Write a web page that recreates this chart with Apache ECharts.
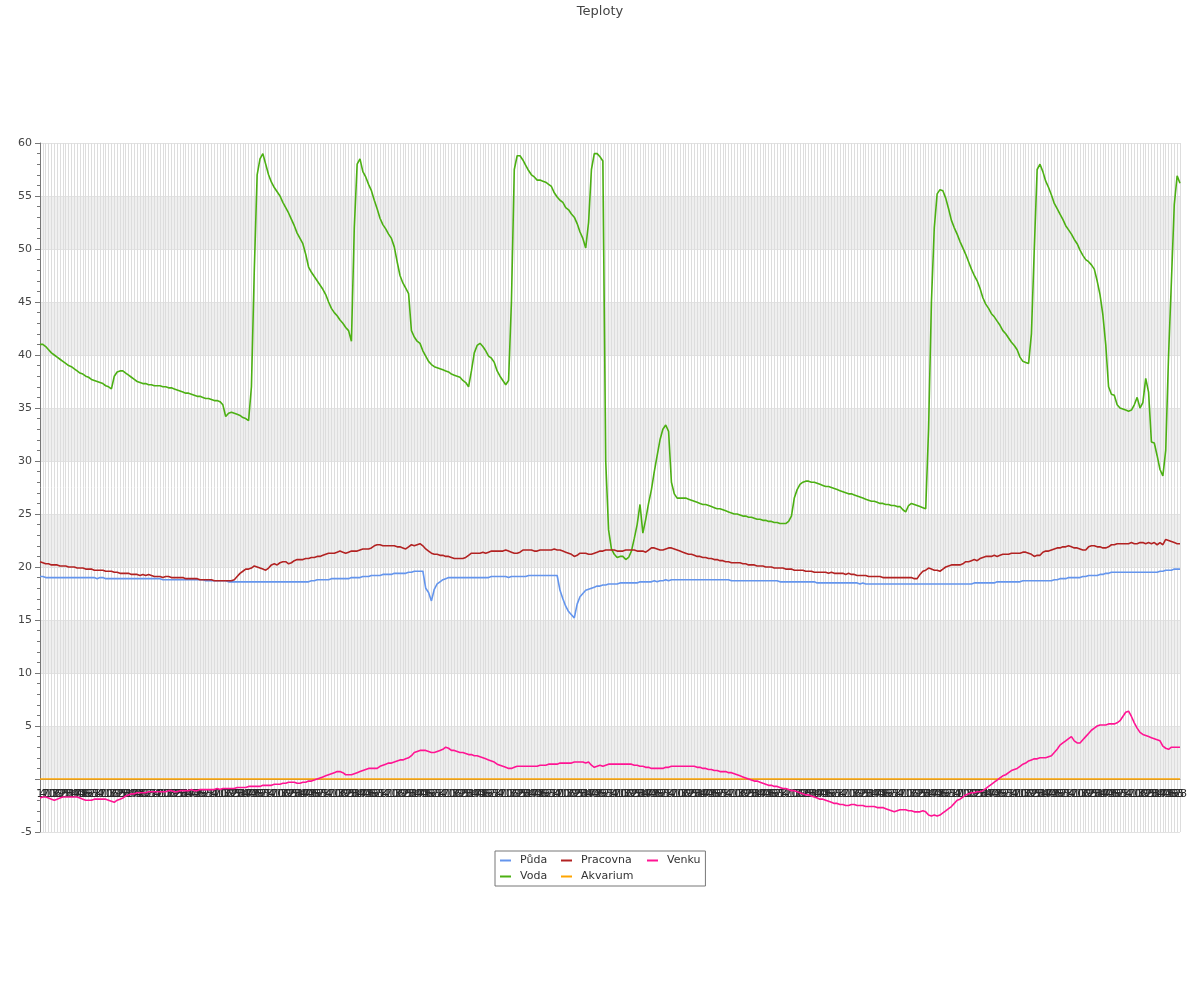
<!DOCTYPE html>
<html>
<head>
<meta charset="utf-8">
<script src="https://cdn.jsdelivr.net/npm/echarts@6/dist/echarts.min.js"></script>
<style>html,body{margin:0;padding:0;background:#fff;}#c{width:1200px;height:1000px;}</style>
</head>
<body>
<div id="c"></div>
<script>
// ---- data ----
const titleText = 'Teploty';
const seriesNames = ['Půda', 'Voda', 'Pracovna', 'Akvarium', 'Venku'];
const legendOrder = ['Půda', 'Pracovna', 'Venku', 'Voda', 'Akvarium'];
const yTicks = [-5, 0, 5, 10, 15, 20, 25, 30, 35, 40, 45, 50, 55, 60];

// category labels: one sample every 3 minutes
const categories = [];
for (let k = 0; k < 400; k++) {
  const t = 61 + k * 3;
  const h = Math.floor(t / 60) % 24, m = t % 60;
  categories.push(h + ':' + (m < 10 ? '0' + m : m));
}

const puda = [
19.1,19.1,19.0,19.0,19.0,19.0,19.0,19.0,19.0,19.0,
19.0,19.0,19.0,19.0,19.0,19.0,19.0,19.0,19.0,19.0,
18.9,19.0,19.0,18.9,18.9,18.9,18.9,18.9,18.9,18.9,
18.9,18.9,18.9,18.9,18.9,18.9,18.9,18.9,18.9,18.9,
18.9,18.9,18.9,18.8,18.8,18.8,18.8,18.8,18.8,18.8,
18.8,18.8,18.8,18.8,18.8,18.8,18.8,18.8,18.7,18.7,
18.7,18.7,18.7,18.7,18.7,18.7,18.6,18.6,18.6,18.6,
18.6,18.6,18.6,18.6,18.6,18.6,18.6,18.6,18.6,18.6,
18.6,18.6,18.6,18.6,18.6,18.6,18.6,18.6,18.6,18.6,
18.6,18.6,18.6,18.6,18.6,18.7,18.7,18.8,18.8,18.8,
18.8,18.8,18.9,18.9,18.9,18.9,18.9,18.9,18.9,19.0,
19.0,19.0,19.0,19.1,19.1,19.1,19.2,19.2,19.2,19.2,
19.3,19.3,19.3,19.3,19.4,19.4,19.4,19.4,19.4,19.5,
19.5,19.6,19.6,19.6,19.6,18.0,17.6,16.8,17.9,18.4,
18.6,18.8,18.9,19.0,19.0,19.0,19.0,19.0,19.0,19.0,
19.0,19.0,19.0,19.0,19.0,19.0,19.0,19.0,19.1,19.1,
19.1,19.1,19.1,19.1,19.0,19.1,19.1,19.1,19.1,19.1,
19.1,19.2,19.2,19.2,19.2,19.2,19.2,19.2,19.2,19.2,
19.2,19.2,17.8,17.0,16.3,15.8,15.5,15.2,16.5,17.2,
17.5,17.8,17.9,18.0,18.1,18.2,18.2,18.3,18.3,18.4,
18.4,18.4,18.4,18.5,18.5,18.5,18.5,18.5,18.5,18.5,
18.6,18.6,18.6,18.6,18.6,18.7,18.6,18.7,18.7,18.8,
18.7,18.8,18.8,18.8,18.8,18.8,18.8,18.8,18.8,18.8,
18.8,18.8,18.8,18.8,18.8,18.8,18.8,18.8,18.8,18.8,
18.8,18.8,18.7,18.7,18.7,18.7,18.7,18.7,18.7,18.7,
18.7,18.7,18.7,18.7,18.7,18.7,18.7,18.7,18.7,18.6,
18.6,18.6,18.6,18.6,18.6,18.6,18.6,18.6,18.6,18.6,
18.6,18.6,18.5,18.5,18.5,18.5,18.5,18.5,18.5,18.5,
18.5,18.5,18.5,18.5,18.5,18.5,18.5,18.4,18.5,18.4,
18.4,18.4,18.4,18.4,18.4,18.4,18.4,18.4,18.4,18.4,
18.4,18.4,18.4,18.4,18.4,18.4,18.4,18.4,18.4,18.4,
18.4,18.4,18.4,18.4,18.4,18.4,18.4,18.4,18.4,18.4,
18.4,18.4,18.4,18.4,18.4,18.4,18.4,18.5,18.5,18.5,
18.5,18.5,18.5,18.5,18.5,18.6,18.6,18.6,18.6,18.6,
18.6,18.6,18.6,18.6,18.7,18.7,18.7,18.7,18.7,18.7,
18.7,18.7,18.7,18.7,18.7,18.8,18.8,18.9,18.9,18.9,
19.0,19.0,19.0,19.0,19.0,19.1,19.1,19.2,19.2,19.2,
19.2,19.3,19.3,19.4,19.4,19.5,19.5,19.5,19.5,19.5,
19.5,19.5,19.5,19.5,19.5,19.5,19.5,19.5,19.5,19.5,
19.5,19.5,19.6,19.6,19.7,19.7,19.7,19.8,19.8,19.8
];

const voda = [
41.0,41.0,40.8,40.5,40.2,40.0,39.8,39.6,39.4,39.2,
39.0,38.9,38.7,38.5,38.3,38.2,38.0,37.9,37.7,37.6,
37.5,37.4,37.3,37.1,37.0,36.8,38.0,38.4,38.5,38.5,
38.3,38.1,37.9,37.7,37.5,37.4,37.3,37.3,37.2,37.2,
37.1,37.1,37.1,37.0,37.0,36.9,36.9,36.8,36.7,36.6,
36.5,36.4,36.4,36.3,36.2,36.1,36.1,36.0,35.9,35.9,
35.8,35.7,35.7,35.6,35.3,34.2,34.5,34.6,34.5,34.4,
34.3,34.1,34.0,33.8,37.0,48.0,57.0,58.5,59.0,58.0,
57.0,56.3,55.8,55.4,55.0,54.4,53.9,53.4,52.8,52.2,
51.5,51.0,50.5,49.5,48.3,47.8,47.4,47.0,46.6,46.2,
45.7,45.0,44.4,44.0,43.7,43.3,43.0,42.6,42.3,41.3,
52.0,58.0,58.5,57.3,56.8,56.1,55.5,54.6,53.8,52.9,
52.3,51.9,51.4,51.0,50.2,48.8,47.5,46.8,46.3,45.8,
42.3,41.7,41.3,41.1,40.4,39.9,39.4,39.1,38.9,38.8,
38.7,38.6,38.5,38.4,38.2,38.1,38.0,37.9,37.6,37.4,
37.0,38.5,40.2,40.9,41.1,40.8,40.4,39.9,39.7,39.3,
38.5,38.0,37.6,37.2,37.6,45.0,57.5,58.8,58.8,58.4,
57.9,57.4,57.0,56.8,56.5,56.5,56.4,56.3,56.1,55.9,
55.3,54.9,54.6,54.4,53.9,53.7,53.3,53.0,52.4,51.6,
51.0,50.1,52.5,57.5,59.0,59.0,58.7,58.3,30.0,23.5,
21.7,21.2,20.9,21.0,21.0,20.7,20.9,21.5,22.7,24.0,
25.9,23.2,24.5,26.0,27.3,29.0,30.5,32.0,33.0,33.4,
32.8,28.0,26.9,26.5,26.5,26.5,26.5,26.4,26.3,26.2,
26.1,26.0,25.9,25.9,25.8,25.7,25.6,25.5,25.5,25.4,
25.3,25.2,25.1,25.0,25.0,24.9,24.8,24.8,24.7,24.7,
24.6,24.5,24.5,24.4,24.4,24.3,24.3,24.2,24.2,24.1,
24.1,24.1,24.3,24.8,26.5,27.3,27.8,28.0,28.1,28.1,
28.0,28.0,27.9,27.8,27.7,27.6,27.6,27.5,27.4,27.3,
27.2,27.1,27.0,26.9,26.9,26.8,26.7,26.6,26.5,26.4,
26.3,26.2,26.2,26.1,26.0,26.0,25.9,25.9,25.8,25.8,
25.7,25.7,25.4,25.2,25.8,26.0,25.9,25.8,25.7,25.6,
25.5,33.0,45.0,52.0,55.2,55.6,55.5,54.8,53.8,52.7,
52.0,51.4,50.7,50.1,49.5,48.8,48.1,47.5,47.0,46.3,
45.4,44.8,44.4,43.9,43.6,43.2,42.8,42.3,42.0,41.6,
41.2,40.9,40.5,39.8,39.4,39.3,39.2,42.0,50.0,57.5,
58.0,57.3,56.4,55.8,55.1,54.3,53.8,53.3,52.8,52.2,
51.8,51.4,50.9,50.5,49.9,49.4,49.0,48.8,48.5,48.1,
47.0,45.7,43.8,41.0,37.0,36.3,36.2,35.3,35.0,34.9,
34.8,34.7,34.8,35.3,36.0,35.0,35.5,37.8,36.5,31.8,
31.7,30.5,29.2,28.6,31.0,40.0,47.0,54.2,56.9,56.2
];

const pracovna = [
20.5,20.4,20.3,20.3,20.2,20.2,20.2,20.1,20.1,20.1,
20.0,20.0,20.0,19.9,19.9,19.9,19.8,19.8,19.8,19.7,
19.7,19.7,19.7,19.6,19.6,19.6,19.5,19.5,19.4,19.4,
19.4,19.4,19.3,19.3,19.3,19.2,19.3,19.2,19.3,19.2,
19.1,19.1,19.1,19.0,19.1,19.1,19.0,19.0,19.0,19.0,
19.0,18.9,18.9,18.9,18.9,18.9,18.8,18.8,18.8,18.8,
18.8,18.7,18.7,18.7,18.7,18.7,18.7,18.7,18.8,19.1,
19.4,19.6,19.8,19.8,19.9,20.1,20.0,19.9,19.8,19.7,
19.9,20.2,20.3,20.2,20.4,20.5,20.5,20.3,20.4,20.6,
20.7,20.7,20.7,20.8,20.8,20.9,20.9,21.0,21.0,21.1,
21.2,21.3,21.3,21.3,21.4,21.5,21.4,21.3,21.4,21.5,
21.5,21.5,21.6,21.7,21.7,21.7,21.8,22.0,22.1,22.1,
22.0,22.0,22.0,22.0,22.0,21.9,21.9,21.8,21.7,21.9,
22.1,22.0,22.1,22.2,22.0,21.7,21.5,21.3,21.2,21.2,
21.1,21.1,21.0,21.0,20.9,20.8,20.8,20.8,20.8,20.9,
21.1,21.3,21.3,21.3,21.3,21.4,21.3,21.4,21.5,21.5,
21.5,21.5,21.5,21.6,21.5,21.4,21.3,21.3,21.4,21.6,
21.6,21.6,21.6,21.5,21.5,21.6,21.6,21.6,21.6,21.6,
21.7,21.6,21.6,21.5,21.4,21.3,21.2,21.0,21.1,21.3,
21.3,21.3,21.2,21.2,21.3,21.4,21.5,21.5,21.6,21.6,
21.6,21.6,21.5,21.5,21.5,21.6,21.6,21.6,21.6,21.5,
21.5,21.5,21.4,21.6,21.8,21.8,21.7,21.6,21.6,21.7,
21.8,21.8,21.7,21.6,21.5,21.4,21.3,21.2,21.2,21.1,
21.0,21.0,20.9,20.9,20.8,20.8,20.7,20.7,20.6,20.6,
20.5,20.5,20.4,20.4,20.4,20.4,20.3,20.3,20.2,20.2,
20.2,20.1,20.1,20.1,20.0,20.0,20.0,19.9,19.9,19.9,
19.9,19.8,19.8,19.8,19.7,19.7,19.7,19.7,19.6,19.6,
19.6,19.5,19.5,19.5,19.5,19.5,19.4,19.5,19.4,19.4,
19.4,19.4,19.3,19.4,19.3,19.3,19.2,19.2,19.2,19.2,
19.1,19.1,19.1,19.1,19.1,19.0,19.0,19.0,19.0,19.0,
19.0,19.0,19.0,19.0,19.0,19.0,18.9,18.9,19.3,19.6,
19.7,19.9,19.8,19.7,19.7,19.6,19.8,20.0,20.1,20.2,
20.2,20.2,20.2,20.3,20.5,20.5,20.6,20.7,20.6,20.8,
20.9,21.0,21.0,21.0,21.1,21.0,21.1,21.2,21.2,21.2,
21.3,21.3,21.3,21.3,21.4,21.4,21.3,21.2,21.0,21.1,
21.1,21.4,21.5,21.5,21.6,21.7,21.8,21.8,21.9,21.9,
22.0,21.9,21.8,21.8,21.7,21.6,21.6,21.9,22.0,22.0,
21.9,21.9,21.8,21.8,21.9,22.1,22.1,22.2,22.2,22.2,
22.2,22.2,22.3,22.2,22.2,22.3,22.3,22.2,22.3,22.2,
22.3,22.1,22.3,22.1,22.6,22.5,22.4,22.3,22.2,22.2
];

const akvarium = [
0,0,0,0,0,0,0,0,0,0,0,0,0,0,0,0,0,0,0,0,0,0,0,0,0,0,0,0,0,0,0,0,0,0,0,0,0,0,0,0,
0,0,0,0,0,0,0,0,0,0,0,0,0,0,0,0,0,0,0,0,0,0,0,0,0,0,0,0,0,0,0,0,0,0,0,0,0,0,0,0,
0,0,0,0,0,0,0,0,0,0,0,0,0,0,0,0,0,0,0,0,0,0,0,0,0,0,0,0,0,0,0,0,0,0,0,0,0,0,0,0,
0,0,0,0,0,0,0,0,0,0,0,0,0,0,0,0,0,0,0,0,0,0,0,0,0,0,0,0,0,0,0,0,0,0,0,0,0,0,0,0,
0,0,0,0,0,0,0,0,0,0,0,0,0,0,0,0,0,0,0,0,0,0,0,0,0,0,0,0,0,0,0,0,0,0,0,0,0,0,0,0,
0,0,0,0,0,0,0,0,0,0,0,0,0,0,0,0,0,0,0,0,0,0,0,0,0,0,0,0,0,0,0,0,0,0,0,0,0,0,0,0,
0,0,0,0,0,0,0,0,0,0,0,0,0,0,0,0,0,0,0,0,0,0,0,0,0,0,0,0,0,0,0,0,0,0,0,0,0,0,0,0,
0,0,0,0,0,0,0,0,0,0,0,0,0,0,0,0,0,0,0,0,0,0,0,0,0,0,0,0,0,0,0,0,0,0,0,0,0,0,0,0,
0,0,0,0,0,0,0,0,0,0,0,0,0,0,0,0,0,0,0,0,0,0,0,0,0,0,0,0,0,0,0,0,0,0,0,0,0,0,0,0,
0,0,0,0,0,0,0,0,0,0,0,0,0,0,0,0,0,0,0,0,0,0,0,0,0,0,0,0,0,0,0,0,0,0,0,0,0,0,0,0
];

const venku = [
-1.8,-1.7,-1.7,-1.8,-1.9,-2.0,-1.9,-1.8,-1.7,-1.7,
-1.7,-1.7,-1.7,-1.7,-1.8,-1.9,-2.0,-2.0,-2.0,-1.9,
-1.9,-1.9,-1.9,-1.9,-2.0,-2.1,-2.2,-2.0,-1.9,-1.8,
-1.6,-1.5,-1.4,-1.4,-1.3,-1.3,-1.3,-1.3,-1.2,-1.2,
-1.2,-1.2,-1.2,-1.2,-1.2,-1.1,-1.1,-1.2,-1.2,-1.1,
-1.1,-1.1,-1.1,-1.0,-1.1,-1.1,-1.0,-1.0,-1.0,-1.0,
-1.0,-1.0,-0.9,-1.0,-0.9,-0.9,-0.9,-0.9,-0.9,-0.8,
-0.8,-0.8,-0.8,-0.7,-0.7,-0.7,-0.7,-0.7,-0.6,-0.6,
-0.6,-0.6,-0.5,-0.5,-0.5,-0.4,-0.4,-0.3,-0.3,-0.3,
-0.4,-0.4,-0.3,-0.3,-0.2,-0.2,-0.1,0.0,0.1,0.2,
0.3,0.4,0.5,0.6,0.7,0.7,0.6,0.4,0.4,0.4,
0.5,0.6,0.7,0.8,0.9,1.0,1.0,1.0,1.0,1.2,
1.3,1.4,1.5,1.5,1.6,1.7,1.8,1.8,1.9,2.0,
2.2,2.5,2.6,2.7,2.7,2.7,2.6,2.5,2.5,2.6,
2.7,2.8,3.0,2.9,2.7,2.7,2.6,2.5,2.5,2.4,
2.3,2.3,2.2,2.2,2.1,2.0,1.9,1.8,1.7,1.6,
1.4,1.3,1.2,1.1,1.0,1.0,1.1,1.2,1.2,1.2,
1.2,1.2,1.2,1.2,1.2,1.3,1.3,1.3,1.4,1.4,
1.4,1.4,1.5,1.5,1.5,1.5,1.5,1.6,1.6,1.6,
1.6,1.5,1.6,1.3,1.1,1.2,1.3,1.2,1.3,1.4,
1.4,1.4,1.4,1.4,1.4,1.4,1.4,1.4,1.3,1.3,
1.2,1.2,1.1,1.1,1.0,1.0,1.0,1.0,1.0,1.1,
1.1,1.2,1.2,1.2,1.2,1.2,1.2,1.2,1.2,1.2,
1.1,1.1,1.0,1.0,0.9,0.9,0.8,0.8,0.7,0.7,
0.7,0.6,0.6,0.5,0.4,0.3,0.2,0.1,0.0,-0.1,
-0.2,-0.2,-0.3,-0.4,-0.5,-0.6,-0.6,-0.7,-0.7,-0.8,
-0.9,-0.9,-1.0,-1.1,-1.1,-1.2,-1.3,-1.4,-1.5,-1.5,
-1.6,-1.7,-1.8,-1.9,-1.9,-2.0,-2.1,-2.2,-2.3,-2.3,
-2.4,-2.4,-2.5,-2.5,-2.4,-2.4,-2.5,-2.5,-2.5,-2.6,
-2.6,-2.6,-2.6,-2.7,-2.7,-2.7,-2.8,-2.9,-3.0,-3.1,
-3.0,-2.9,-2.9,-2.9,-3.0,-3.0,-3.1,-3.1,-3.1,-3.0,
-3.1,-3.4,-3.5,-3.4,-3.5,-3.4,-3.2,-3.0,-2.8,-2.6,
-2.3,-2.0,-1.9,-1.7,-1.5,-1.4,-1.3,-1.3,-1.2,-1.2,
-1.1,-0.9,-0.7,-0.5,-0.3,-0.1,0.1,0.3,0.4,0.6,
0.8,0.9,1.0,1.2,1.4,1.5,1.7,1.8,1.9,1.9,
2.0,2.0,2.0,2.1,2.2,2.5,2.8,3.2,3.4,3.6,
3.8,4.0,3.6,3.4,3.4,3.7,4.0,4.3,4.6,4.8,
5.0,5.1,5.1,5.1,5.2,5.2,5.2,5.3,5.5,5.9,
6.3,6.4,5.9,5.3,4.8,4.4,4.2,4.1,4.0,3.9,
3.8,3.7,3.6,3.1,2.9,2.8,3.0,3.0,3.0,3.0
];

const seriesData = { 'Půda': puda, 'Voda': voda, 'Pracovna': pracovna, 'Akvarium': akvarium, 'Venku': venku };
const seriesColors = { 'Půda': '#6495ED', 'Voda': '#4CB013', 'Pracovna': '#B22222', 'Akvarium': '#FFA500', 'Venku': '#FF1493' };
const legendTextWidth = { 'Půda': 38, 'Pracovna': 63, 'Venku': 33, 'Voda': 38, 'Akvarium': 63 };

// layout
const GRID_TOP = 143, GRID_BOTTOM = 168, CHART_H = 1000;
const yMin = yTicks[0], yMax = yTicks[yTicks.length - 1];
const plotH = CHART_H - GRID_TOP - GRID_BOTTOM;
// shift the category axis up to the value-axis zero (axis crossing at 0)
const zeroOffset = -((0 - yMin) / (yMax - yMin)) * plotH;

const FONT = 'DejaVu Sans, sans-serif';
const chart = echarts.init(document.getElementById('c'), null, { renderer: 'canvas' });
chart.setOption({
  animation: false,
  backgroundColor: '#ffffff',
  textStyle: { fontFamily: FONT },
  title: {
    text: titleText, left: 'center', top: 0,
    textStyle: { fontSize: 13, fontWeight: 'normal', color: '#444', fontFamily: FONT }
  },
  legend: {
    data: legendOrder.map(n => ({ name: n, textStyle: { width: legendTextWidth[n] } })),
    left: 495, top: 851, width: 202,
    orient: 'horizontal',
    padding: [3, 5, 3, 5],
    borderColor: '#777', borderWidth: 1,
    icon: 'rect', itemWidth: 11, itemHeight: 2, itemGap: 3,
    textStyle: { fontSize: 11, color: '#333', lineHeight: 13, padding: [0, 0, 0, 4], fontFamily: FONT }
  },
  grid: { left: 40, right: 20, top: GRID_TOP, bottom: GRID_BOTTOM, containLabel: false },
  xAxis: {
    type: 'category',
    data: categories,
    boundaryGap: false,
    position: 'bottom',
    offset: zeroOffset,
    axisLine: { onZero: false, lineStyle: { color: '#888', width: 1 } },
    axisTick: { show: false },
    axisLabel: {
      interval: 0, margin: 10, color: '#2a2a2a', fontSize: 11, fontFamily: FONT,
      formatter: v => String(parseInt(v.split(':')[1], 10))
    },
    splitLine: { show: true, interval: 0, lineStyle: { color: '#dddddd', width: 1 } }
  },
  yAxis: {
    type: 'value',
    min: yMin, max: yMax, interval: 5,
    axisLine: { show: true, lineStyle: { color: '#777' } },
    axisTick: { show: true, length: 5, lineStyle: { color: '#777' } },
    minorTick: { show: true, splitNumber: 5, length: 3, lineStyle: { color: '#777' } },
    axisLabel: {
      color: '#444', fontSize: 11, fontFamily: FONT,
      formatter: v => (v === 0 ? '' : String(v))
    },
    splitLine: { show: true, lineStyle: { color: '#e2e2e2' } },
    splitArea: { show: true, areaStyle: { color: ['rgba(255,255,255,0)', 'rgba(220,220,220,0.45)'] } }
  },
  series: seriesNames.map(n => ({
    name: n,
    type: 'line',
    data: seriesData[n],
    symbol: 'none',
    showSymbol: false,
    color: seriesColors[n],
    lineStyle: { color: seriesColors[n], width: 1.6 },
    z: 3
  }))
});
</script>
</body>
</html>
